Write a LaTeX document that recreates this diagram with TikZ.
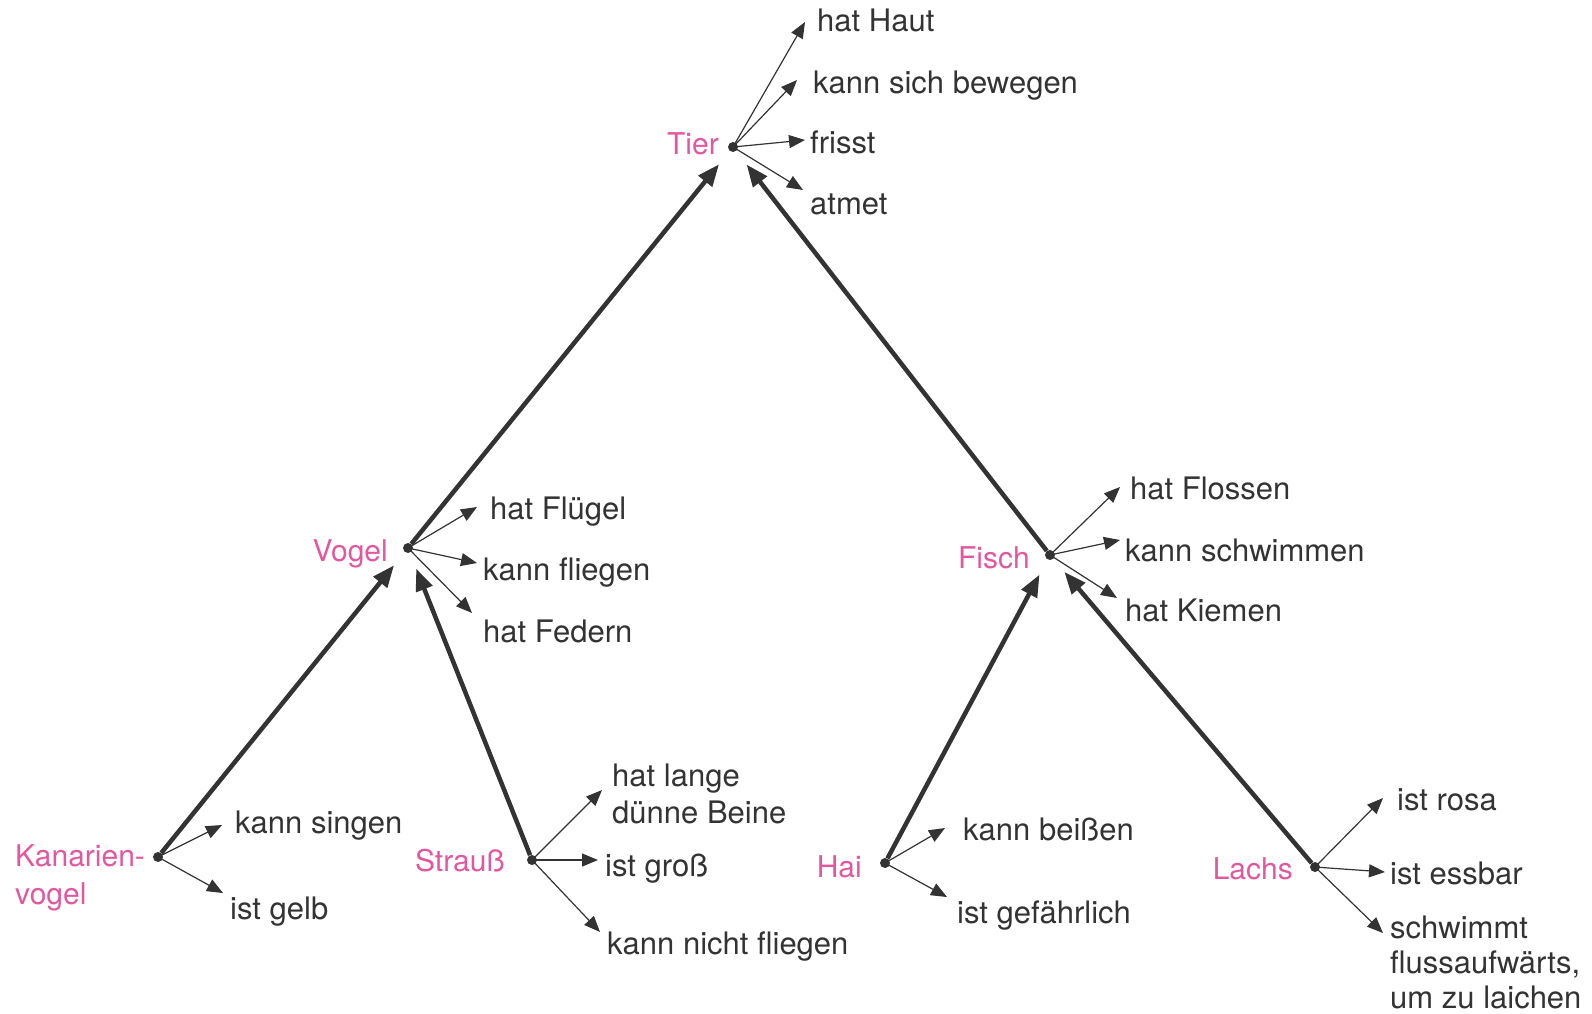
\documentclass[tikz,border=0pt]{standalone}
\usepackage{fontspec}
\setmainfont{TeX Gyre Heros}
\usetikzlibrary{arrows.meta}
\definecolor{ink}{HTML}{333333}
\definecolor{conceptpink}{HTML}{E2589F}
% several left-aligned lines, baseline on the first one, no struts
\newcommand{\lines}[1]{\vtop{\halign{##\hfil\cr#1\crcr}}}
\begin{document}
\begin{tikzpicture}[x=1pt,y=-1pt,
  dot/.style={circle,fill=ink,inner sep=0pt,minimum size=10pt},
  prop/.style={anchor=base west,inner sep=0pt,text=ink,font=\fontsize{31}{37}\selectfont},
  concept/.style={anchor=base east,inner sep=0pt,text=conceptpink,font=\fontsize{30}{38}\selectfont},
  isa/.style={draw=ink,line width=4.5pt,-{Triangle[length=22pt,width=17pt]},shorten >=17pt},
  has/.style={draw=ink,line width=1.2pt,-{Triangle[length=16pt,width=13pt]}}]
\useasboundingbox (0,0) rectangle (1592,1013);

% concept points
\node[dot] (tier)    at (733,147) {};
\node[dot] (vogel)   at (408,548) {};
\node[dot] (fisch)   at (1050,555) {};
\node[dot] (kanarien) at (158,857) {};
\node[dot] (strauss) at (532,860) {};
\node[dot] (hai)     at (885,863) {};
\node[dot] (lachs)   at (1315,867) {};

% concept names
\node[concept] (tierL)    at (719,154) {Tier};
\node[concept] (vogelL)   at (388,561) {Vogel};
\node[concept] (fischL)   at (1030,568) {Fisch};
\node[concept,anchor=base west] (kanarienL) at (15,866) {\lines{Kanarien-\cr vogel}};
\node[concept] (straussL) at (505,871) {Strauß};
\node[concept] (haiL)     at (862,877) {Hai};
\node[concept] (lachsL)   at (1293,879) {Lachs};

% properties
\node[prop] (p1)  at (817,31)  {hat Haut};
\node[prop] (p2)  at (813,93)  {kann sich bewegen};
\node[prop] (p3)  at (810,153) {frisst};
\node[prop] (p4)  at (810,214) {atmet};
\node[prop] (p5)  at (490,519) {hat Flügel};
\node[prop] (p6)  at (483,580) {kann fliegen};
\node[prop] (p7)  at (483,642) {hat Federn};
\node[prop] (p8)  at (235,833) {kann singen};
\node[prop] (p9)  at (230,919) {ist gelb};
\node[prop] (p10) at (612,786) {\lines{hat lange\cr dünne Beine}};
\node[prop] (p11) at (605,876) {ist groß};
\node[prop] (p12) at (607,954) {kann nicht fliegen};
\node[prop] (p13) at (963,840) {kann beißen};
\node[prop] (p14) at (957,923) {ist gefährlich};
\node[prop] (p15) at (1130,499) {hat Flossen};
\node[prop] (p16) at (1125,561) {kann schwimmen};
\node[prop] (p17) at (1125,621) {hat Kiemen};
\node[prop] (p18) at (1397,810) {ist rosa};
\node[prop] (p19) at (1390,884) {ist essbar};
\node[prop,font=\fontsize{31}{35}\selectfont] (p20) at (1390,938) {\lines{schwimmt\cr flussaufwärts,\cr um zu laichen}};

% arrow tips of the property links
\coordinate (a1)  at (805,22);
\coordinate (a2)  at (797,80);
\coordinate (a3)  at (805,140);
\coordinate (a4)  at (803,190);
\coordinate (a5)  at (477,507);
\coordinate (a6)  at (477,563);
\coordinate (a7)  at (472,613);
\coordinate (a8)  at (222,825);
\coordinate (a9)  at (223,893);
\coordinate (a10) at (602,790);
\coordinate (a11) at (598,860);
\coordinate (a12) at (600,932);
\coordinate (a13) at (945,828);
\coordinate (a14) at (947,897);
\coordinate (a15) at (1120,487);
\coordinate (a16) at (1120,540);
\coordinate (a17) at (1117,598);
\coordinate (a18) at (1383,798);
\coordinate (a19) at (1385,872);
\coordinate (a20) at (1383,933);

% is-a links
\draw[isa] (vogel) -- (tier);
\draw[isa] (fisch) -- (tier);
\draw[isa] (kanarien) -- (vogel);
\draw[isa] (strauss) -- (vogel);
\draw[isa] (hai) -- (fisch);
\draw[isa] (lachs) -- (fisch);

% property links
\foreach \a in {1,2,3,4} \draw[has] (tier.center) -- (a\a);
\foreach \a in {5,6,7} \draw[has] (vogel.center) -- (a\a);
\foreach \a in {8,9} \draw[has] (kanarien.center) -- (a\a);
\foreach \a in {10,11,12} \draw[has] (strauss.center) -- (a\a);
\foreach \a in {13,14} \draw[has] (hai.center) -- (a\a);
\foreach \a in {15,16,17} \draw[has] (fisch.center) -- (a\a);
\foreach \a in {18,19,20} \draw[has] (lachs.center) -- (a\a);
\end{tikzpicture}
\end{document}
